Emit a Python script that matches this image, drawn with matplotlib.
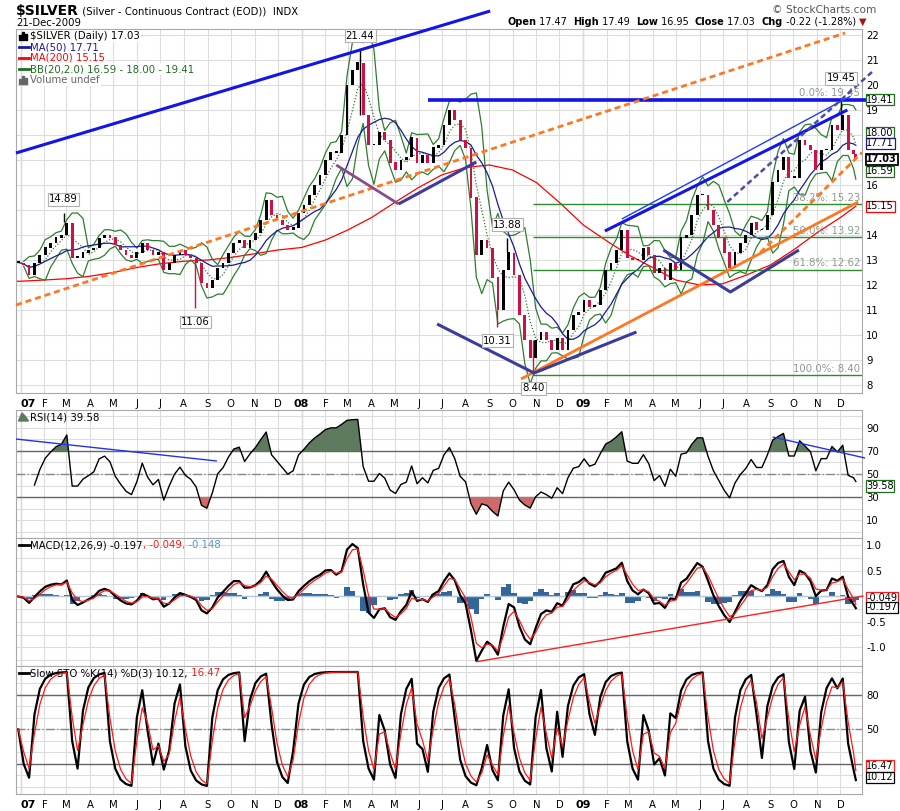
import numpy as np
import pandas as pd
import matplotlib
matplotlib.use('Agg')
import matplotlib.pyplot as plt
import matplotlib.dates as mdates
from matplotlib.transforms import blended_transform_factory

plt.rcParams['font.family'] = ['DejaVu Sans']
plt.rcParams['font.size'] = 7.3

# weekly closes (Friday closes)
close_2006 = [12.9]
close_2007 = [12.8, 12.4, 12.9, 13.2, 13.5, 13.7, 13.9, 14.0, 14.5, 13.1, 13.1, 13.3, 13.4,
              13.5, 13.9, 14.0, 13.9, 13.6, 13.4, 13.2, 13.1, 13.3, 13.7, 13.4, 13.2, 13.3,
              12.6, 12.9, 13.2, 13.4, 13.2, 13.1, 12.9, 12.1, 11.9, 12.2, 12.7, 12.9, 13.3,
              13.7, 13.8, 13.5, 13.8, 14.1, 14.6, 15.4, 14.8, 14.6, 14.4, 14.2, 14.3, 14.9]
close_2008 = [15.2, 15.6, 16.0, 16.4, 17.0, 17.3, 17.3, 18.0, 20.0, 20.6, 20.9, 18.8, 17.6,
              17.6, 18.1, 17.8, 16.9, 16.6, 17.0, 17.1, 17.9, 16.9, 17.2, 16.9, 17.5, 17.6,
              18.4, 19.0, 18.6, 17.8, 17.5, 15.5, 13.2, 13.8, 13.5, 12.3, 11.0, 12.6, 13.3,
              12.4, 10.8, 9.8, 9.1, 9.8, 10.1, 9.8, 9.4, 9.9, 9.4, 10.2, 10.8, 10.9]
close_2009 = [11.4, 11.1, 11.2, 11.8, 12.6, 12.9, 13.4, 14.2, 13.1, 13.0, 13.0, 13.5, 13.2,
              12.5, 12.7, 12.2, 12.9, 12.6, 13.9, 14.0, 14.8, 15.6, 15.6, 15.0, 14.4, 13.9,
              13.3, 12.7, 13.3, 13.7, 14.0, 14.5, 14.2, 14.2, 14.8, 16.1, 16.6, 17.1, 16.3,
              16.3, 17.8, 17.6, 17.4, 16.6, 17.4, 17.4, 18.4, 18.2, 18.8, 17.4, 17.25]
close_last = [17.03]

week_dates = (list(pd.date_range('2006-12-29', periods=1, freq='W-FRI'))
              + list(pd.date_range('2007-01-05', periods=52, freq='W-FRI'))
              + list(pd.date_range('2008-01-04', periods=52, freq='W-FRI'))
              + list(pd.date_range('2009-01-02', periods=51, freq='W-FRI'))
              + [pd.Timestamp('2009-12-21')])

# 200 day average
ma200_dates = ([pd.Timestamp('2006-12-26')]
               + list(pd.date_range('2007-01-01', '2009-12-01', freq='MS'))
               + [pd.Timestamp('2009-12-21')])
ma200_vals = [12.15, 12.15, 12.2, 12.25, 12.35, 12.5, 12.7, 12.85, 12.95, 13.0, 13.1, 13.25, 13.4,
              13.5, 13.8, 14.2, 14.7, 15.3, 15.9, 16.4, 16.7, 16.8, 16.6, 16.1, 15.3,
              14.4, 13.75, 13.2, 12.7, 12.2, 12.0, 12.05, 12.4, 12.8, 13.4, 14.1, 14.7, 15.15]

# labelled extremes
peak_dates = ['2007-02-26', '2007-08-16', '2008-03-17', '2008-09-11', '2008-09-24', '2008-10-28', '2009-12-02']
peak_vals = [14.89, 11.06, 21.44, 10.31, 13.88, 8.40, 19.45]
peak_up = [True, False, True, False, True, False, True]

# fibonacci retracement
fib_pct = ['0.0%', '38.2%', '50.0%', '61.8%', '100.0%']
fib_vals = [19.45, 15.23, 13.92, 12.62, 8.40]
fib_start = '2008-10-27'

# hand drawn trendlines (date, value)
blue_top = [('2006-12-26', 17.28), ('2008-09-02', 22.96)]
blue_flat = [('2008-06-13', 19.38), ('2010-01-31', 19.38)]
orange_long = [('2006-12-26', 11.2), ('2009-12-07', 22.08)]
orange_base = [('2008-10-12', 8.24), ('2009-12-24', 15.32)]
orange_short = [('2009-08-19', 13.3), ('2009-12-29', 17.3)]
chan_thin = [('2009-02-20', 14.64), ('2009-12-14', 19.55)]
chan_thick = [('2009-01-29', 14.16), ('2009-12-10', 19.0)]
chan_dash = [('2009-07-07', 15.32), ('2010-01-11', 20.52)]
purple_arm = [('2008-02-15', 16.8), ('2008-05-06', 15.24)]
navy_arm = [('2008-05-06', 15.24), ('2008-08-15', 16.92)]
navy_v1 = [('2008-06-25', 10.44), ('2008-10-29', 8.48), ('2009-03-11', 10.12)]
navy_v2 = [('2009-04-15', 13.4), ('2009-07-11', 11.72), ('2009-10-08', 13.4)]
rsi_lines = [[('2006-12-26', 80.4), ('2007-09-13', 61.3)],
             [('2009-09-04', 82.2), ('2010-01-02', 63.9)]]
macd_trend = [('2008-08-15', -1.28), ('2009-12-31', 0.01)]

# ------------------------------------------------------------------
px = pd.Series(close_2006 + close_2007 + close_2008 + close_2009 + close_last,
               index=pd.DatetimeIndex(week_dates))
x = mdates.date2num(px.index.values)
c = px.values

ma50 = px.rolling(10, min_periods=1).mean()
bb_mid = px.rolling(4, min_periods=1).mean()
bb_sd = px.rolling(4, min_periods=2).std(ddof=0)
bb_up = bb_mid + 2 * bb_sd
bb_lo = bb_mid - 2 * bb_sd

d = px.diff()
gain = d.clip(lower=0).ewm(alpha=0.17, adjust=False).mean()
loss = (-d.clip(upper=0)).ewm(alpha=0.17, adjust=False).mean()
rsi = 100 - 100 / (1 + gain / loss)
rsi.iloc[:3] = np.nan  # warm-up

macd = px.ewm(alpha=0.566, adjust=False).mean() - px.ewm(alpha=0.319, adjust=False).mean()
signal = macd.ewm(alpha=0.6, adjust=False).mean()
hist = macd - signal

lo3 = px.rolling(3, min_periods=1).min()
hi3 = px.rolling(3, min_periods=1).max()
rawk = (100 * (px - lo3) / (hi3 - lo3)).fillna(50)
slowk = rawk.ewm(alpha=0.6, adjust=False).mean()
slowd = slowk.ewm(alpha=0.65, adjust=False).mean()

# ------------------------------------------------------------------
W, H = 900, 811
fig = plt.figure(figsize=(9, 8.11), dpi=100)
fig.patch.set_facecolor('white')


def frame(top, bottom):
    return [16 / W, 1 - bottom / H, 846 / W, (bottom - top) / H]


ax = fig.add_axes(frame(29, 393))
ax_rsi = fig.add_axes(frame(410, 538), sharex=ax)
ax_macd = fig.add_axes(frame(538, 666), sharex=ax)
ax_sto = fig.add_axes(frame(666, 794), sharex=ax)
panels = [ax, ax_rsi, ax_macd, ax_sto]

months = pd.date_range('2007-01-01', '2009-12-01', freq='MS')
mlabels = [m.strftime('%y') if m.month == 1 else 'JFMAMJJASOND'[m.month - 1] for m in months]
ax.set_xticks(mdates.date2num(months.values))
ax.set_xticklabels(mlabels)
ax.set_xlim(mdates.datestr2num('2006-12-26'), mdates.datestr2num('2009-12-29'))

for a in panels:
    a.set_facecolor('white')
    for s in a.spines.values():
        s.set_color('#a8a8a8')
        s.set_linewidth(0.8)
    a.yaxis.tick_right()
    a.tick_params(axis='both', which='both', length=0, labelsize=7.3, pad=3)
    a.grid(True, which='both', color='#dcdcdc', lw=0.8)
    a.set_axisbelow(True)
    for m in months:
        if m.month == 1:
            a.axvline(mdates.date2num(m), color='#b0b0b0', lw=0.9, zorder=0.5)
    a.tick_params(axis='x', labelbottom=False)

for a in (ax, ax_sto):
    a.tick_params(axis='x', labelbottom=True, pad=4)
    for t in a.get_xticklabels():
        if t.get_text() in ('07', '08', '09'):
            t.set_fontweight('bold')
            t.set_fontsize(8)

ax.get_xticklabels()[0].set_horizontalalignment('left')
ax_sto.get_xticklabels()[0].set_horizontalalignment('left')

# ---- price panel ----
ax.set_ylim(7.68, 22.24)
# 15, 17 and 18 sit under the value tags
ax.set_yticks([8, 9, 10, 11, 12, 13, 14, 16, 19, 20, 21, 22])
ax.set_yticks([15, 17, 18], minor=True)

ax.plot(mdates.date2num(pd.DatetimeIndex(ma200_dates).values), ma200_vals, color='#ff0000', lw=0.9, zorder=2)
ax.plot(x, bb_up, color='#2e7d2e', lw=0.9, zorder=2)
ax.plot(x, bb_lo, color='#2e7d2e', lw=0.9, zorder=2)
ax.plot(x, bb_mid, color='#2e7d2e', lw=0.9, ls=(0, (1, 1.5)), zorder=2)
ax.plot(x, ma50, color='#1a1a99', lw=0.9, zorder=2)

opens = np.r_[c[0], c[:-1]]
up = c >= opens
body_lo = np.minimum(opens, c)
body_h = np.maximum(np.abs(c - opens), 0.05)
ax.bar(x[up], body_h[up], bottom=body_lo[up], width=3.6, color='black', zorder=3)
ax.bar(x[~up], body_h[~up], bottom=body_lo[~up], width=3.6, color='#cc1144', zorder=3)

pk_x = mdates.datestr2num(peak_dates)
for px_, pv, pu in zip(pk_x, peak_vals, peak_up):
    i = min(np.searchsorted(x, px_), len(x) - 1)
    ax.vlines(px_, c[i], pv, color='#cc1144' if not pu else 'black', lw=1, zorder=3)
    lift = 11 if pv == fib_vals[0] else 6   # last peak sits on top of the 0% fib label
    ax.annotate(f'{pv:.2f}', xy=(px_, pv), xytext=(0, lift if pu else -6), textcoords='offset points',
                ha='center', va='bottom' if pu else 'top', fontsize=7.3, zorder=6,
                bbox=dict(boxstyle='square,pad=0.12', fc='white', ec='#b0b0b0', lw=0.8))

fib_x0 = mdates.datestr2num(fib_start)
ax.hlines(fib_vals, fib_x0, ax.get_xlim()[1], color='#2d8a2d', lw=1, zorder=2)
bt = blended_transform_factory(ax.transAxes, ax.transData)
for p, v in zip(fib_pct, fib_vals):
    ax.text(0.998, v + 0.04, f'{p}: {v:.2f}', transform=bt, ha='right', va='bottom',
            color='#8c9a8c', fontsize=7.3, zorder=4)


def seg(a, pts, **kw):
    xs = mdates.datestr2num([p[0] for p in pts])
    ys = [p[1] for p in pts]
    a.plot(xs, ys, clip_on=False, solid_capstyle='butt', **kw)


seg(ax, blue_top, color='#1414e6', lw=2.2, zorder=5)
seg(ax, blue_flat, color='#1414e6', lw=2.6, zorder=5)
seg(ax, orange_long, color='#ff7722', lw=2, ls=(0, (2.2, 1.4)), zorder=5)
seg(ax, orange_base, color='#ff7722', lw=2, zorder=5)
seg(ax, orange_short, color='#ff7722', lw=2, ls=(0, (2.2, 1.4)), zorder=5)
seg(ax, chan_thin, color='#1e3cff', lw=1, zorder=5)
seg(ax, chan_thick, color='#1414e6', lw=2.2, zorder=5)
seg(ax, chan_dash, color='#4b4ba6', lw=1.8, ls=(0, (2.2, 1.4)), zorder=5)
seg(ax, purple_arm, color='#8a4d8a', lw=2, zorder=5)
seg(ax, navy_arm, color='#3c3c9c', lw=2.2, zorder=5)
seg(ax, navy_v1, color='#3c3c9c', lw=2.2, zorder=5)
seg(ax, navy_v2, color='#3c3c9c', lw=2.2, zorder=5)

# legend rows
leg = [('$SILVER (Daily) 17.03', 'black'), ('MA(50) 17.71', '#1a1a99'),
       ('MA(200) 15.15', '#ff0000'), ('BB(20,2.0) 16.59 - 18.00 - 19.41', '#1e6e1e'),
       ('Volume undef', '#666666')]
for i, (t, col) in enumerate(leg):
    yf = 1 - (7 + 11 * i) / 364
    ax.text(14 / 846, yf, t, transform=ax.transAxes, color=col, va='center', fontsize=7.3, zorder=7,
            bbox=dict(boxstyle='square,pad=0.12', fc='white', ec='none'))
    if 0 < i < 4:
        ax.plot([2.5 / 846, 12.5 / 846], [yf, yf], transform=ax.transAxes, color=col, lw=2, zorder=8)
    else:
        for k, hh in enumerate([0.6, 1.0, 0.8]):
            ax.add_patch(plt.Rectangle(((3 + 3 * k) / 846, yf - 0.011), 2 / 846, 0.022 * hh,
                                       transform=ax.transAxes, color=col if i else 'black', zorder=8))


def tag(a, v, text, col, bold=False):
    tr = blended_transform_factory(a.transAxes, a.transData)
    a.text(1.005, v, text, transform=tr, va='center', ha='left', fontsize=7,
           fontweight='bold' if bold else 'normal', zorder=9, clip_on=False,
           bbox=dict(boxstyle='square,pad=0.06', fc='white', ec=col, lw=1.3 if bold else 0.9))


tag(ax, 19.41, '19.41', '#1e6e1e')
tag(ax, 18.09, '18.00', '#1e6e1e')
tag(ax, 17.66, '17.71', '#1a1a99')
tag(ax, 17.03, '17.03', 'black', bold=True)
tag(ax, 16.55, '16.59', '#1e6e1e')
tag(ax, 15.15, '15.15', '#ff0000')

# ---- RSI ----
ax_rsi.set_ylim(-5.65, 105.65)
ax_rsi.set_yticks([10, 30, 50, 70, 90])
ax_rsi.set_yticks([0, 20, 40, 60, 80, 100], minor=True)
ax_rsi.axhline(70, color='#666666', lw=1, zorder=1)
ax_rsi.axhline(30, color='#666666', lw=1, zorder=1)
ax_rsi.axhline(50, color='#888888', lw=1, ls='-.', zorder=1)
ax_rsi.fill_between(x, rsi, 70, where=rsi > 70, interpolate=True, color='#5e7a5e', lw=0, zorder=2)
ax_rsi.fill_between(x, rsi, 30, where=rsi < 30, interpolate=True, color='#d06a6a', lw=0, zorder=2)
ax_rsi.plot(x, rsi, color='black', lw=1, zorder=3)
for ln in rsi_lines:
    seg(ax_rsi, ln, color='#2233ee', lw=1, zorder=4)
ax_rsi.text(14 / 846, 1 - 7 / 128, 'RSI(14) 39.58', transform=ax_rsi.transAxes, va='center', fontsize=7.3)
ax_rsi.fill([2.5 / 846, 6 / 846, 9 / 846, 12.5 / 846],
            [1 - 11 / 128, 1 - 3 / 128, 1 - 6 / 128, 1 - 11 / 128], transform=ax_rsi.transAxes, color='#5e7a5e')
tag(ax_rsi, 39.58, '39.58', '#1e6e1e')

# ---- MACD ----
ax_macd.set_ylim(-1.363, 1.147)
ax_macd.set_yticks([-1.0, -0.5, 0.5, 1.0])
ax_macd.set_yticklabels(['-1.0', '-0.5', '0.5', '1.0'])
ax_macd.set_yticks([-1.25, -0.75, -0.25, 0, 0.25, 0.75], minor=True)
ax_macd.bar(x, hist, width=7, color='#336699', zorder=2)
ax_macd.axhline(0, color='#b8c8dc', lw=1, zorder=2.5)
ax_macd.plot(x, macd, color='black', lw=1.6, zorder=3)
ax_macd.plot(x, signal, color='#ff1a1a', lw=0.9, zorder=4)
seg(ax_macd, macd_trend, color='#ff2020', lw=1, zorder=5)
ax_macd.plot([2.5 / 846, 12.5 / 846], [1 - 7 / 128] * 2, transform=ax_macd.transAxes, color='black', lw=2)
t1 = ax_macd.text(14 / 846, 1 - 7 / 128, 'MACD(12,26,9) -0.197', transform=ax_macd.transAxes,
                  va='center', fontsize=7.3)
t2 = ax_macd.annotate(', -0.049', xy=(1, 0.5), xycoords=t1, va='center', color='#ff1a1a', fontsize=7.3)
ax_macd.annotate(', -0.148', xy=(1, 0.5), xycoords=t2, va='center', color='#4a9ad4', fontsize=7.3)
tag(ax_macd, -0.03, '-0.049', '#ff1a1a')
tag(ax_macd, -0.215, '-0.197', 'black')

# ---- Slow stochastic ----
ax_sto.set_ylim(-6.1, 105.2)
ax_sto.set_yticks([50, 80])
ax_sto.set_yticks([0, 10, 20, 30, 40, 60, 70, 90, 100], minor=True)
ax_sto.axhline(80, color='#666666', lw=1, zorder=1)
ax_sto.axhline(20, color='#666666', lw=1, zorder=1)
ax_sto.axhline(50, color='#888888', lw=1, ls='-.', zorder=1)
ax_sto.plot(x, slowk, color='black', lw=1.6, zorder=3)
ax_sto.plot(x, slowd, color='#ff1a1a', lw=0.9, zorder=4)
ax_sto.plot([2.5 / 846, 12.5 / 846], [1 - 7 / 128] * 2, transform=ax_sto.transAxes, color='black', lw=2)
s1 = ax_sto.text(14 / 846, 1 - 7 / 128, 'Slow STO %K(14) %D(3) 10.12,', transform=ax_sto.transAxes,
                 va='center', fontsize=7.3)
ax_sto.annotate(' 16.47', xy=(1, 0.5), xycoords=s1, va='center', color='#ff1a1a', fontsize=7.3)
tag(ax_sto, 18.2, '16.47', '#ff1a1a')
tag(ax_sto, 8.6, '10.12', 'black')

# ---- header ----
ttl = fig.text(16 / W, 1 - 11 / H, '$SILVER', fontsize=10, fontweight='bold', va='center')
ax.annotate(' (Silver - Continuous Contract (EOD))  INDX', xy=(1, 0.45), xycoords=ttl, va='center',
            fontsize=7.3, annotation_clip=False)
fig.text(16 / W, 1 - 23.5 / H, '21-Dec-2009', fontsize=7.3, va='center')
fig.text(772 / W, 1 - 10 / H, '\u00a9 StockCharts.com', fontsize=7.6, va='center', color='#555555')

parts = [('Open', 'bold', 'black'), (' 17.47  ', 'normal', 'black'), ('High', 'bold', 'black'),
         (' 17.49  ', 'normal', 'black'), ('Low', 'bold', 'black'), (' 16.95  ', 'normal', 'black'),
         ('Close', 'bold', 'black'), (' 17.03  ', 'normal', 'black'), ('Chg', 'bold', 'black'),
         (' -0.22 (-1.28%) ', 'normal', 'black'), ('\u25bc', 'normal', '#aa1111')]
prev = fig.text(507 / W, 1 - 22 / H, parts[0][0], fontsize=7.0, fontweight='bold', va='center')
for txt, wt, col in parts[1:]:
    prev = ax.annotate(txt, xy=(1, 0.5), xycoords=prev, va='center', ha='left', fontsize=7.0,
                       fontweight=wt, color=col, annotation_clip=False)

fig.savefig('out.png', dpi=100, facecolor='white')
